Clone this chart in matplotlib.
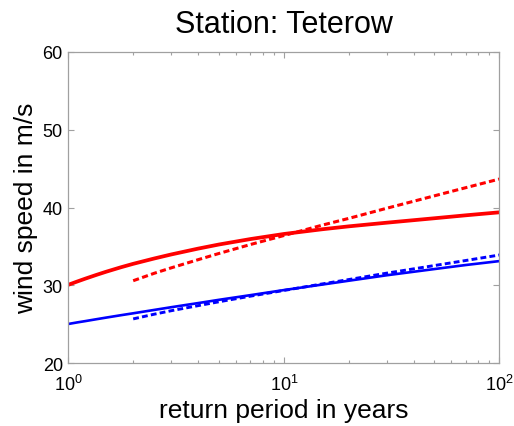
import matplotlib
matplotlib.use("Agg")
import matplotlib.pyplot as plt
from matplotlib.ticker import LogLocator, FixedLocator

plt.rcParams['font.family'] = ['Liberation Sans', 'DejaVu Sans']
plt.rcParams['mathtext.fontset'] = 'custom'
plt.rcParams['mathtext.rm'] = 'Liberation Sans'
plt.rcParams['mathtext.it'] = 'Liberation Sans'

# return periods (years) and wind speeds (m/s)
T_fit = [1.0, 1.1, 1.2, 1.35, 1.5, 1.75, 2.0, 2.5, 3.0, 4.0, 5.0, 7.0,
         10.0, 15.0, 20.0, 30.0, 50.0, 70.0, 100.0]
red_fit = [30.08, 30.5, 30.87, 31.35, 31.76, 32.32, 32.77, 33.45, 33.97, 34.72,
           35.25, 35.95, 36.6, 37.2, 37.58, 38.05, 38.62, 39.0, 39.38]
blue_fit = [25.05, 25.25, 25.42, 25.66, 25.87, 26.17, 26.42, 26.85, 27.2, 27.73,
            28.15, 28.75, 29.4, 30.1, 30.6, 31.3, 32.1, 32.62, 33.12]

T_gum = [2.0, 2.5, 3.0, 4.0, 5.0, 7.0, 10.0, 15.0, 20.0, 30.0, 50.0, 70.0, 100.0]
red_gum = [30.6, 31.55, 32.25, 33.3, 34.1, 35.25, 36.4, 37.72, 38.6, 39.9, 41.5, 42.55, 43.65]
blue_gum = [25.7, 26.3, 26.75, 27.4, 27.9, 28.62, 29.35, 30.18, 30.75, 31.57, 32.55, 33.2, 33.9]

fig = plt.figure(figsize=(5.14, 4.27), dpi=100)
ax = fig.add_axes([0.1329, 0.1468, 0.8385, 0.7298])

ax.plot(T_fit, blue_fit, color='#0000ff', lw=1.9, solid_capstyle='butt')
ax.plot(T_gum, blue_gum, color='#0000ff', lw=2.1, ls=(0, (2.0, 1.1)))
ax.plot(T_fit, red_fit, color='#ff0000', lw=2.7, solid_capstyle='butt')
ax.plot(T_gum, red_gum, color='#ff0000', lw=2.2, ls=(0, (2.0, 1.1)))

ax.set_xscale('log')
ax.set_xlim(1, 100)
ax.set_ylim(20, 60)
ax.yaxis.set_major_locator(FixedLocator([20, 30, 40, 50, 60]))
ax.xaxis.set_major_locator(LogLocator(base=10, numticks=10))
ax.xaxis.set_minor_locator(LogLocator(base=10, subs=range(2, 10), numticks=10))

grey = '#a0a0a0'
for s in ax.spines.values():
    s.set_color(grey)
    s.set_linewidth(0.9)
ax.tick_params(which='both', direction='in', top=True, right=True, color=grey,
               labelsize=13, labelcolor='black')
ax.tick_params(which='major', length=4.5, width=0.8)
ax.tick_params(which='minor', length=2.5, width=0.8)
ax.tick_params(axis='x', which='major', pad=7.5)
ax.tick_params(axis='y', which='major', pad=4)

ax.set_xlabel('return period in years', fontsize=19, labelpad=3)
ax.set_ylabel('wind speed in m/s', fontsize=19, labelpad=3)
ax.set_title('Station: Teterow', fontsize=22, pad=14)

fig.savefig('out.png', dpi=100)
